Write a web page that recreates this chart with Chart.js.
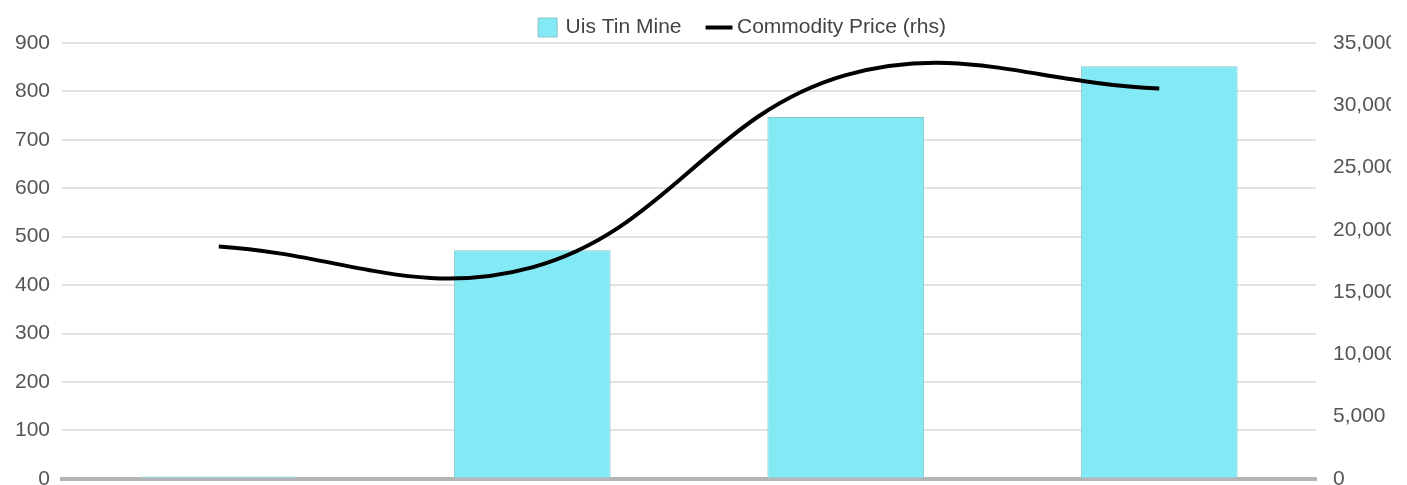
<!DOCTYPE html>
<html>
<head>
<meta charset="utf-8">
<title>Uis Tin Mine</title>
<script src="https://cdn.jsdelivr.net/npm/chart.js@4.4.1/dist/chart.umd.min.js"></script>
<style>
    html, body { margin: 0; padding: 0; overflow: hidden; background: #fff; }
    #clip { position: absolute; left: 0; top: 0; width: 1391px; height: 485px; overflow: hidden; }
    #wrap { position: absolute; left: 0; top: 0; width: 1486px; height: 528px; }
</style>
</head>
<body>
<div id="clip"><div id="wrap"><canvas id="tinCanvas"></canvas></div></div>
<script>
// years on the x axis
var years = ['2019', '2020', '2021', '2022'];
// Uis Tin Mine output, left axis
var mineOutput = [5, 472, 747, 852];
// commodity price, right axis (rhs)
var commodityPrice = [18660, 16980, 32420, 31350];
// tick ranges
var lhsTicks = [0, 900, 100];
var rhsTicks = [0, 35000, 5000];

var TinChart = {
    init : function () {
        this.canvas = document.getElementById('tinCanvas');
        Chart.defaults.font.family = '"Liberation Sans", Arial, sans-serif';
        Chart.defaults.font.size = 21;
        Chart.defaults.color = '#555';
        this.render();
    },
    render : function () {
        var base = this;
        base.chartObject = new Chart(base.canvas, {
            type: 'bar',
            data: {
                labels: years,
                datasets: [
                    {
                        type: 'bar',
                        label: 'Uis Tin Mine',
                        data: mineOutput,
                        yAxisID: 'y',
                        order: 1,
                        backgroundColor: '#83e9f4',
                        borderColor: '#8cc4cc',
                        borderWidth: 1,
                        pointStyle: 'rect',
                        categoryPercentage: 1.0,
                        barPercentage: 0.5
                    },
                    {
                        type: 'line',
                        label: 'Commodity Price (rhs)',
                        data: commodityPrice,
                        yAxisID: 'y1',
                        order: 0,
                        borderColor: '#000',
                        backgroundColor: '#000',
                        borderWidth: 4,
                        tension: 0.4,
                        pointRadius: 0,
                        pointHoverRadius: 0,
                        pointStyle: 'line'
                    }
                ]
            },
            options: {
                responsive: true,
                maintainAspectRatio: false,
                animation: false,
                layout: { padding: { top: -13, left: 0, right: 0, bottom: 0 } },
                plugins: {
                    tooltip: { enabled: false },
                    legend: {
                        position: 'top',
                        maxHeight: 56,
                        labels: {
                            usePointStyle: true,
                            boxWidth: 15,
                            boxHeight: 19,
                            padding: 30,
                            color: '#444',
                            font: { size: 21 },
                            sort: function (a, b) { return a.datasetIndex - b.datasetIndex; }
                        }
                    }
                },
                scales: {
                    x: {
                        grid: { display: false, drawTicks: false },
                        border: { display: true, color: '#b5b5b5', width: 4 },
                        ticks: { padding: 12 }
                    },
                    y: {
                        position: 'left',
                        min: lhsTicks[0],
                        max: lhsTicks[1],
                        ticks: { stepSize: lhsTicks[2], padding: 12 },
                        grid: { color: '#e2e2e2', lineWidth: 2, drawTicks: false },
                        border: { display: false },
                        afterFit: function (scale) { scale.width = 62; }
                    },
                    y1: {
                        position: 'right',
                        min: rhsTicks[0],
                        max: rhsTicks[1],
                        ticks: { stepSize: rhsTicks[2], padding: 17 },
                        grid: { drawOnChartArea: false, drawTicks: false },
                        border: { display: false },
                        afterFit: function (scale) { scale.width = 170; }
                    }
                }
            }
        });
    }
};

TinChart.init();
</script>
</body>
</html>
